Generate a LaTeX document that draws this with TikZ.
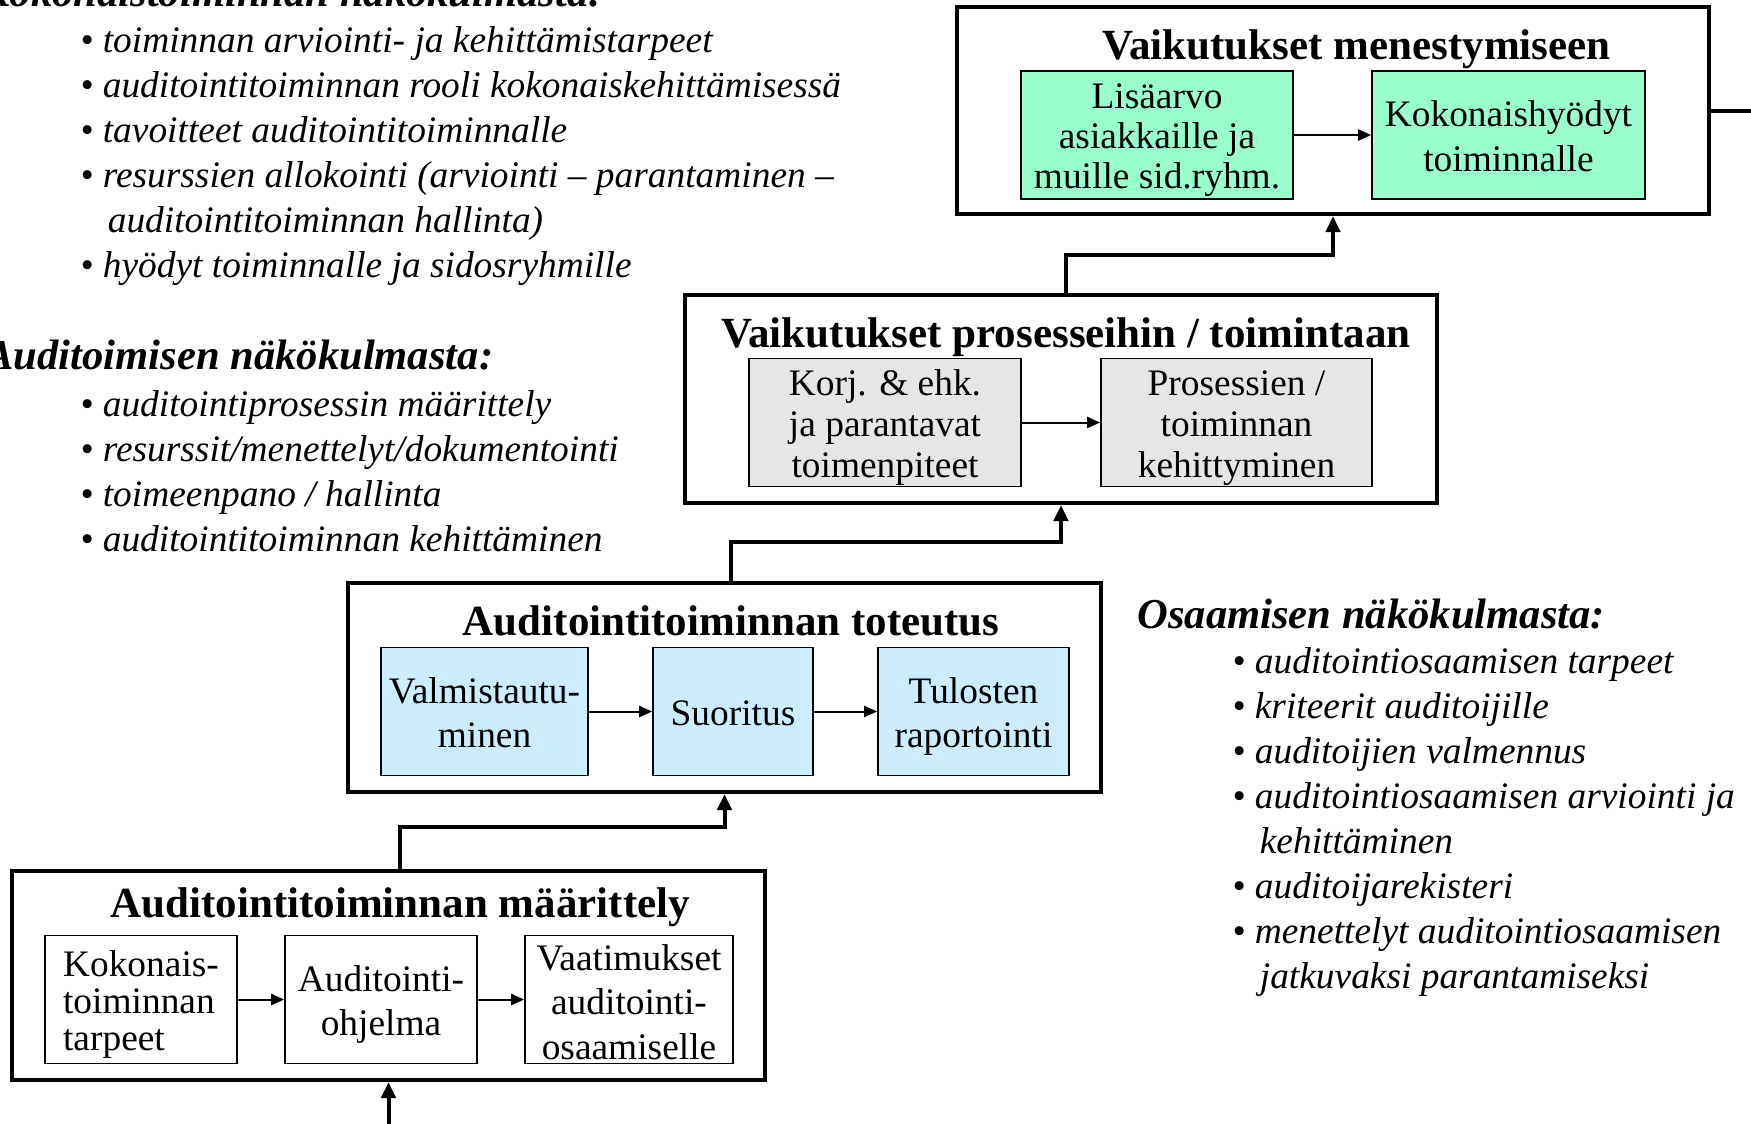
\documentclass[tikz,border=0pt]{standalone}
\usepackage{fontspec}
\setmainfont{Liberation Serif}
\usetikzlibrary{arrows.meta}
\definecolor{mintgreen}{RGB}{153,255,204}
\definecolor{lightgrey}{RGB}{230,230,230}
\definecolor{paleblue}{RGB}{204,236,255}
\newcommand{\topstrut}{\rule{0pt}{17.8pt}}
\newcommand{\botstrut}{\rule[-4pt]{0pt}{0pt}}
\tikzset{
  frame/.style={draw, line width=2pt, inner sep=0pt},
  cell/.style={draw, line width=0.8pt, inner sep=0pt, align=center,
    minimum height=64pt, font=\fontsize{18.7}{22.3}\selectfont},
  heading/.style={anchor=base, inner sep=0pt, font=\fontsize{21.5}{25}\selectfont\bfseries},
  view/.style={anchor=base west, inner sep=0pt, font=\fontsize{21.3}{25}\selectfont\bfseries\itshape},
  points/.style={anchor=north west, inner sep=0pt, align=left,
    font=\fontsize{18.7}{22.45}\selectfont\itshape},
  link/.style={-{Triangle[length=8pt,width=7pt]}, line width=2pt},
  flow/.style={-{Triangle[length=6.5pt,width=5.5pt]}, line width=1pt}
}
\newcommand{\cont}{\hphantom{\textbullet\ }\hspace{2.5pt}}

\begin{document}
\begin{tikzpicture}[x=0.5pt,y=-0.5pt]
  \useasboundingbox (0,0) rectangle (1751,1124);

  % outer frames
  \node[frame, minimum width=376pt, minimum height=103.5pt] (success) at (1333,110.5) {};
  \node[frame, minimum width=376pt, minimum height=104pt]   (process) at (1061,399) {};
  \node[frame, minimum width=376.5pt, minimum height=104.5pt] (execution) at (724.5,687.5) {};
  \node[frame, minimum width=376.5pt, minimum height=104.5pt] (definition) at (388.5,975.5) {};

  \node[heading] (successtitle)    at ([xshift=11.7pt,yshift=-27.1pt]success.north)    {Vaikutukset menestymiseen};
  \node[heading] (processtitle)    at ([xshift=2.5pt,yshift=-27.1pt]process.north)     {Vaikutukset prosesseihin / toimintaan};
  \node[heading] (executiontitle)  at ([xshift=3.3pt,yshift=-27.1pt]execution.north)   {Auditointitoiminnan toteutus};
  \node[heading] (definitiontitle) at ([xshift=5.85pt,yshift=-24.3pt]definition.north) {Auditointitoiminnan määrittely};

  % inner cells
  \node[cell, fill=mintgreen, minimum width=136pt, font=\fontsize{18.7}{20}\selectfont] (value) at (1157,135)
    {\topstrut Lisäarvo\\asiakkaille ja\\muille sid.ryhm.\botstrut};
  \node[cell, fill=mintgreen, minimum width=136.5pt] (benefit) at (1508.5,135)
    {\topstrut Kokonaishyödyt\\toiminnalle\botstrut};

  \node[cell, fill=lightgrey, minimum width=136pt, font=\fontsize{18.7}{20.4}\selectfont] (actions) at (885,422.5)
    {\topstrut Korj. \& ehk.\\ja parantavat\\toimenpiteet\botstrut};
  \node[cell, fill=lightgrey, minimum width=135.5pt, font=\fontsize{18.7}{20.4}\selectfont] (growth) at (1236.5,422.5)
    {\topstrut Prosessien /\\toiminnan\\kehittyminen\botstrut};

  \node[cell, fill=paleblue, minimum width=103.5pt] (prepare) at (484.5,711.5) {\topstrut Valmistautu-\\minen\botstrut};
  \node[cell, fill=paleblue, minimum width=80pt]    (perform) at (733,711.5)   {\topstrut Suoritus\botstrut};
  \node[cell, fill=paleblue, minimum width=95.5pt]  (report)  at (973.5,711.5) {\topstrut Tulosten\\raportointi\botstrut};

  \node[cell, align=left, minimum width=96pt, font=\fontsize{18.7}{18.4}\selectfont] (needs) at (141,999.5)
    {\topstrut Kokonais-\\toiminnan\\tarpeet\botstrut};
  \node[cell, minimum width=96pt]  (program)      at (381,999.5) {\topstrut Auditointi-\\ohjelma\botstrut};
  \node[cell, minimum width=104pt] (requirements) at (629,999.5)
    {\rule{0pt}{17.4pt}Vaatimukset\\auditointi-\\osaamiselle\rule[-2pt]{0pt}{0pt}};

  \draw[flow] (value) -- (benefit);
  \draw[flow] (actions) -- (growth);
  \draw[flow] (prepare) -- (perform);
  \draw[flow] (perform) -- (report);
  \draw[flow] (needs) -- (program);
  \draw[flow] (program) -- (requirements);

  % connectors between frames
  \coordinate (source) at (388.5,1130);
  \coordinate (offpage) at (1760,110.5);
  \draw[link] (source) -- (definition.south);
  \draw[link] (definitiontitle |- definition.north) -- ++(0,-42) -| (execution.south);
  \draw[link] (executiontitle |- execution.north) -- ++(0,-39) -| (process.south);
  \draw[link] (processtitle |- process.north) -- ++(0,-38) -| (success.south);
  \draw[line width=2pt] (success.east) -- (offpage);

  % viewpoints
  \node[view] (wholeview) at (-19,6.4) {Kokonaistoiminnan näkökulmasta:};
  \node[points] (wholelist) at (80,26.5) {%
    \textbullet\ toiminnan arviointi- ja kehittämistarpeet\\
    \textbullet\ auditointitoiminnan rooli kokonaiskehittämisessä\\
    \textbullet\ tavoitteet auditointitoiminnalle\\
    \textbullet\ resurssien allokointi (arviointi – parantaminen –\\
    \cont auditointitoiminnan hallinta)\\
    \textbullet\ hyödyt toiminnalle ja sidosryhmille};

  \node[view] (auditview) at (-15,369.4) {Auditoimisen näkökulmasta:};
  \node[points] (auditlist) at (80,390.5) {%
    \textbullet\ auditointiprosessin määrittely\\
    \textbullet\ resurssit/menettelyt/dokumentointi\\
    \textbullet\ toimeenpano / hallinta\\
    \textbullet\ auditointitoiminnan kehittäminen};

  \node[view] (skillview) at (1137,628.4) {Osaamisen näkökulmasta:};
  \node[points] (skilllist) at (1232,647.5) {%
    \textbullet\ auditointiosaamisen tarpeet\\
    \textbullet\ kriteerit auditoijille\\
    \textbullet\ auditoijien valmennus\\
    \textbullet\ auditointiosaamisen arviointi ja\\
    \cont kehittäminen\\
    \textbullet\ auditoijarekisteri\\
    \textbullet\ menettelyt auditointiosaamisen\\
    \cont jatkuvaksi parantamiseksi};
\end{tikzpicture}
\end{document}
